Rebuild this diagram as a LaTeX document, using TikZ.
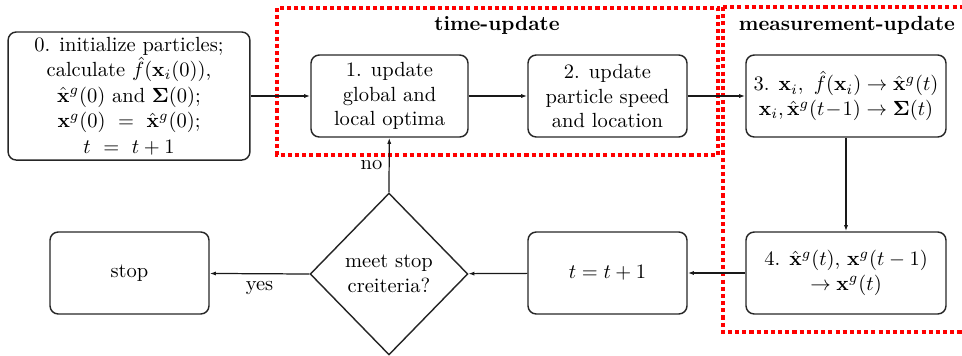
\documentclass[tikz,border=0pt]{standalone}
\usepackage{amsmath}
\usetikzlibrary{shapes.geometric,arrows.meta}
\begin{document}
\begin{tikzpicture}[x=0.488pt,y=-0.488pt,
  box/.style={draw=black!85, line width=0.7pt, rounded corners=4pt, align=center, inner sep=1pt},
  dec/.style={draw=black!85, line width=0.7pt, diamond, align=center, inner sep=0pt, minimum width=77pt, minimum height=79pt},
  conn/.style={draw=black!90, line width=0.6pt, -{Latex[length=3pt,width=2pt]}},
  region/.style={draw=red, line width=1.5pt, dash pattern=on 2pt off 1.5pt},
  ttl/.style={font=\bfseries}]
\useasboundingbox (0,0) rectangle (962,355);
\clip (0,0) rectangle (962,355);
% regions
\draw[region] (277,8) rectangle (718,155);
\draw[region] (723,7) -- (975,7) (723,7) -- (723,332) -- (975,332);
\node[ttl] (t1) at (497,25) {time-update};
\node[ttl] (t2) at (847,25) {measurement-update};
% nodes
\node[box, minimum width=118pt, minimum height=62.5pt] (b0) at (129,96)
  {0. initialize particles;\\[0.5pt]
   calculate $\hat{f}(\mathbf{x}_i(0))$,\\[0.5pt]
   $\hat{\mathbf{x}}^g(0)$ and $\mathbf{\Sigma}(0)$;\\[0.5pt]
   $\mathbf{x}^g(0)\ =\ \hat{\mathbf{x}}^g(0)$;\\[0.5pt]
   $t\ =\ t+1$};
\node[box, minimum width=76.6pt, minimum height=40pt] (b1) at (389.5,96)
  {1. update\\ global and\\ local optima};
\node[box, minimum width=77.6pt, minimum height=40pt] (b2) at (607.5,96)
  {2. update\\ particle speed\\ and location};
\node[box, minimum width=97.6pt, minimum height=40pt] (b3) at (846,96)
  {3. $\mathbf{x}_i,\ \hat{f}(\mathbf{x}_i)\rightarrow\hat{\mathbf{x}}^g(t)$\\
   $\mathbf{x}_i, \hat{\mathbf{x}}^g(t\!-\!1)\rightarrow\mathbf{\Sigma}(t)$};
\node[box, minimum width=97.6pt, minimum height=40pt] (b4) at (846,273)
  {4. $\hat{\mathbf{x}}^g(t)$, $\mathbf{x}^g(t-1)$\\ $\rightarrow\mathbf{x}^g(t)$};
\node[box, minimum width=77.6pt, minimum height=40pt] (bt) at (607.5,273)
  {$t = t+1$};
\node[dec] (d) at (389,274) {meet stop\\ creiteria?};
\node[box, minimum width=77.6pt, minimum height=40pt] (bs) at (129.5,273)
  {stop};
% connectors
\draw[conn] (b0) -- (b1);
\draw[conn] (b1) -- (b2);
\draw[conn] (b2) -- (b3);
\draw[conn] (b3) -- (b4);
\draw[conn] (b4) -- (bt);
\draw[conn] (bt) -- (d);
\draw[conn] (d.west) -- node[below] {yes} (bs);
\draw[conn] (d.north) -- node[pos=0.5, left, inner sep=3pt] {no} (b1);
\end{tikzpicture}
\end{document}
